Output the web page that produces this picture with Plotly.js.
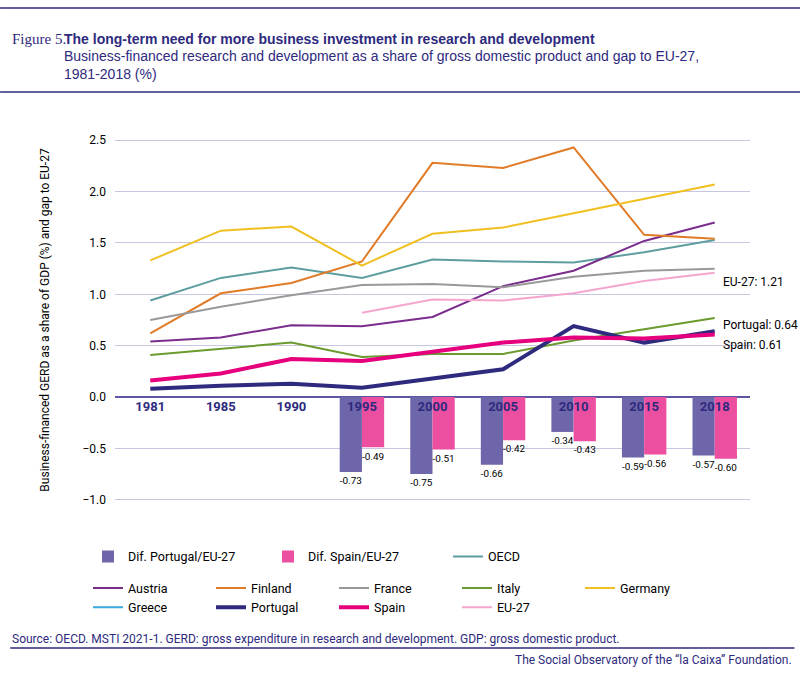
<!DOCTYPE html>
<html>
<head>
<meta charset="utf-8">
<script src="https://cdn.plot.ly/plotly-3.0.1.min.js"></script>
<style>body{margin:0;background:#fff}#chart{width:800px;height:673px}</style>
</head>
<body>
<div id="chart"></div>
<script>
// Business-financed GERD as % of GDP, 1981-2018
const years = ['1981', '1985', '1990', '1995', '2000', '2005', '2010', '2015', '2018'];

const austria  = [0.54, 0.58, 0.70, 0.69, 0.78, 1.08, 1.23, 1.52, 1.70];
const finland  = [0.62, 1.01, 1.11, 1.32, 2.28, 2.23, 2.43, 1.58, 1.54];
const france   = [0.75, 0.88, 0.99, 1.09, 1.10, 1.07, 1.17, 1.23, 1.25];
const italy    = [0.41, 0.47, 0.53, 0.39, 0.42, 0.42, 0.55, 0.66, 0.77];
const germany  = [1.33, 1.62, 1.66, 1.28, 1.59, 1.65, 1.79, 1.93, 2.07];
const greece   = [null, null, null, null, null, null, null, null, null];
const portugal = [0.08, 0.11, 0.13, 0.09, 0.18, 0.27, 0.69, 0.53, 0.64];
const spain    = [0.16, 0.23, 0.37, 0.35, 0.44, 0.53, 0.58, 0.57, 0.61];
const eu27     = [null, null, null, 0.82, 0.95, 0.94, 1.01, 1.13, 1.21];
const oecd     = [0.94, 1.16, 1.26, 1.16, 1.34, 1.32, 1.31, 1.41, 1.53];

const difPortugal = [null, null, null, -0.73, -0.75, -0.66, -0.34, -0.59, -0.57];
const difSpain    = [null, null, null, -0.49, -0.51, -0.42, -0.43, -0.56, -0.60];

const navy = '#2e2a7e';
const font = 'Roboto, sans-serif';

const fmt = v => v === null ? '' : v.toFixed(2);

function line(name, y, color, width, legend) {
  return {type: 'scatter', mode: 'lines', name: name, x: years, y: y,
          line: {color: color, width: width}, legend: legend || 'legend2'};
}

const data = [
  {type: 'bar', name: 'Dif. Portugal/EU-27', x: years, y: difPortugal, marker: {color: '#6e66aa'},
   text: difPortugal.map(fmt), textposition: 'outside', cliponaxis: false,
   textfont: {color: '#000', size: 12, family: font}, legend: 'legend'},
  {type: 'bar', name: 'Dif. Spain/EU-27', x: years, y: difSpain, marker: {color: '#ec4fa0'},
   text: difSpain.map(fmt), textposition: 'outside', cliponaxis: false,
   textfont: {color: '#000', size: 12, family: font}, legend: 'legend'},
  line('OECD', oecd, '#5e9ea0', 2, 'legend'),
  line('Austria', austria, '#7b2d8e', 2),
  line('Finland', finland, '#e07b28', 2),
  line('France', france, '#999999', 2),
  line('Italy', italy, '#6b9a2e', 2),
  line('Germany', germany, '#f0c020', 2),
  line('Greece', greece, '#3aa8e0', 2),
  line('Portugal', portugal, navy, 4),
  line('Spain', spain, '#e6007e', 4),
  line('EU-27', eu27, '#f4a6cf', 2)
];

const layout = {
  width: 800, height: 673,
  margin: {l: 115, r: 50, t: 130, b: 163},
  font: {family: font, size: 12, color: '#000'},
  paper_bgcolor: '#fff', plot_bgcolor: '#fff',
  barmode: 'group', bargap: 0.37, bargroupgap: 0,
  showlegend: true,
  xaxis: {type: 'category', range: [-0.5, 8.5], anchor: 'free', position: 1.1 / 3.7,
          showline: false, showgrid: false, ticks: '',
          tickfont: {color: navy, size: 13, family: font, weight: 'bold'}},
  yaxis: {range: [-1.1, 2.6], dtick: 0.5, tickformat: '.1f', gridcolor: '#c8c6e0',
          zeroline: true, zerolinecolor: '#5a56a0', zerolinewidth: 1.5,
          tickfont: {size: 12}, ticklabelstandoff: 8,
          title: {text: 'Business-financed GERD as a share of GDP (%) and gap to EU-27', font: {size: 12}, standoff: 30}},
  legend: {orientation: 'h', x: 0.11, y: 0.195, xref: 'container', yref: 'container', yanchor: 'top',
           font: {size: 12.5}, entrywidth: 135, itemwidth: 30},
  legend2: {orientation: 'h', x: 0.11, y: 0.148, xref: 'container', yref: 'container', yanchor: 'top',
            font: {size: 12.5}, entrywidth: 78, itemwidth: 30, tracegroupgap: 0},
  annotations: [
    {text: 'Figure 5.', xref: 'paper', yref: 'paper', x: -0.165, y: 1.265, xanchor: 'left', yanchor: 'top',
     showarrow: false, font: {family: 'Liberation Serif, serif', size: 15, color: navy}},
    {text: '<b>The long-term need for more business investment in research and development</b>',
     xref: 'paper', yref: 'paper', x: -0.083, y: 1.265, xanchor: 'left', yanchor: 'top', showarrow: false,
     font: {family: 'Liberation Sans, sans-serif', size: 14, color: navy}},
    {text: 'Business-financed research and development as a share of gross domestic product and gap to EU-27,<br>1981-2018 (%)',
     xref: 'paper', yref: 'paper', x: -0.083, y: 1.22, xanchor: 'left', yanchor: 'top', align: 'left', showarrow: false,
     font: {family: 'Liberation Sans, sans-serif', size: 14, color: navy}},
    {text: 'EU-27: 1.21', xref: 'x', yref: 'y', x: 8, y: 1.12, xanchor: 'left', xshift: 6, showarrow: false, font: {size: 12}},
    {text: 'Portugal: 0.64', xref: 'x', yref: 'y', x: 8, y: 0.70, xanchor: 'left', xshift: 6, showarrow: false, font: {size: 12}},
    {text: 'Spain: 0.61', xref: 'x', yref: 'y', x: 8, y: 0.51, xanchor: 'left', xshift: 6, showarrow: false, font: {size: 12}},
    {text: 'Source: OECD. MSTI 2021-1. GERD: gross expenditure in research and development. GDP: gross domestic product.',
     xref: 'paper', yref: 'paper', x: -0.165, y: -0.316, xanchor: 'left', yanchor: 'top', showarrow: false,
     font: {size: 12, color: navy}},
    {text: 'The Social Observatory of the \u201cla Caixa\u201d Foundation.',
     xref: 'paper', yref: 'paper', x: 1.07, y: -0.372, xanchor: 'right', yanchor: 'top', showarrow: false,
     font: {size: 12, color: navy}}
  ],
  shapes: [
    {type: 'line', xref: 'paper', yref: 'paper', x0: -0.181, x1: 1.079, y0: 1.321, y1: 1.321,
     line: {color: navy, width: 1.5}},
    {type: 'line', xref: 'paper', yref: 'paper', x0: -0.181, x1: 1.079, y0: 1.1, y1: 1.1,
     line: {color: navy, width: 1.5}},
    {type: 'line', xref: 'paper', yref: 'paper', x0: -0.165, x1: 1.07, y0: -0.363, y1: -0.363,
     line: {color: navy, width: 1.5}}
  ]
};

Plotly.newPlot('chart', data, layout, {displayModeBar: false});
</script>
</body>
</html>
